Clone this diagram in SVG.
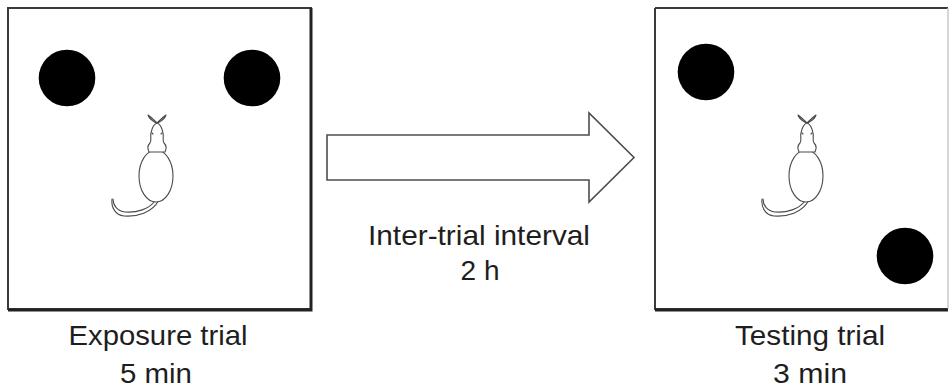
<svg xmlns="http://www.w3.org/2000/svg" width="950" height="389" viewBox="0 0 950 389">
  <style>
    .box { fill: #ffffff; stroke: #3a3a3a; stroke-width: 2; }
    .edge { stroke: #222222; stroke-width: 3; fill: none; }
    .object { fill: #000000; }
    .mouse { fill: none; stroke: #4a4a4a; stroke-width: 1.1; stroke-linecap: round; stroke-linejoin: round; }
    .body { fill: #ffffff; stroke: #4a4a4a; stroke-width: 1.1; }
    .arrow { fill: #ffffff; stroke: #4d4d4d; stroke-width: 1.6; stroke-linejoin: miter; }
    .label { font-family: "Liberation Sans", Arial, sans-serif; font-size: 28px; fill: #1e1e1e; text-anchor: middle; }
    .duration { font-size: 27px; }
  </style>
  <defs>
    <!-- top-view mouse, origin at the tip of the nose -->
    <g id="mouse">
      <path class="mouse" d="M0,0 C-3,-3 -6,-6 -9,-8 C-8,-4 -4,-2 -1,0 M0,0 C3,-3 6,-6 9,-8 C8,-4 4,-2 1,0"/>
      <path class="mouse" d="M-2,78 C-8,86 -20,90 -32,89 C-40,88 -44,82 -44,76"/>
      <path class="mouse" d="M2,77 C-5,90 -20,94 -33,93 C-42,92 -46,84 -45,76"/>
      <ellipse class="body" cx="-1" cy="53" rx="17" ry="26"/>
      <path class="body" d="M0,0 C-3,1 -5,5 -6,10 C-7,14 -5,17 -7,20 C-9,22 -10,25 -8,29 L8,29 C10,25 9,22 7,20 C5,17 7,14 6,10 C5,5 3,1 0,0 Z"/>
      <path class="mouse" d="M-5,10 l1,1 M5,10 l-1,1"/>
    </g>
  </defs>

  <g id="exposure-trial">
    <rect class="box" x="8" y="8" width="303" height="301"/>
    <path class="edge" d="M311,8 V310 H8"/>
    <circle class="object" cx="67" cy="78" r="28.3"/>
    <circle class="object" cx="252" cy="78" r="28.3"/>
    <use href="#mouse" x="157" y="123"/>
    <text class="label" x="158" y="345" textLength="179" lengthAdjust="spacingAndGlyphs">Exposure trial</text>
    <text class="label duration" x="156" y="383" textLength="72" lengthAdjust="spacingAndGlyphs">5 min</text>
  </g>

  <g id="testing-trial">
    <path class="box" d="M655,8 H948 M655,8 V309 H948"/>
    <path d="M948,8 V309" stroke="#c8c8c8" stroke-width="1.5" fill="none"/>
    <path class="edge" d="M655,310 H948"/>
    <circle class="object" cx="706" cy="72" r="28.3"/>
    <circle class="object" cx="905" cy="256" r="28.3"/>
    <use href="#mouse" x="807" y="123"/>
    <text class="label" x="810" y="345" textLength="150" lengthAdjust="spacingAndGlyphs">Testing trial</text>
    <text class="label duration" x="810" y="383" textLength="74" lengthAdjust="spacingAndGlyphs">3 min</text>
  </g>

  <g id="connectors">
    <polygon class="arrow" points="327,135 589,135 589,113 634,157.5 589,202 589,180 327,180"/>
    <text class="label" x="479" y="245" textLength="222" lengthAdjust="spacingAndGlyphs">Inter-trial interval</text>
    <text class="label" x="480" y="280">2 h</text>
  </g>
</svg>
